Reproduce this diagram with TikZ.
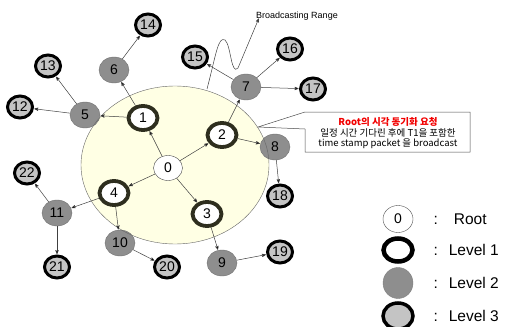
\documentclass[tikz,border=0pt]{standalone}
\usepackage{fontspec}
\setmainfont{Liberation Sans}
\newfontfamily\krfont{Noto Sans CJK KR}
\usetikzlibrary{arrows,shapes.geometric}
\definecolor{rangefill}{HTML}{FFFFE4}
\definecolor{ringcol}{HTML}{2E2E1E}
\definecolor{ltwo}{HTML}{8E8E8E}
\definecolor{lthree}{HTML}{C4C4C4}

\begin{document}
\begin{tikzpicture}
	[x=1pt,y=-1pt,->,>=stealth',shorten >=0.5pt,
		font=\fontsize{14}{14}\selectfont,
		root node/.style={ellipse,draw=black!70,fill=white,line width=0.4pt,minimum width=29pt,minimum height=25pt,inner sep=0pt},
		lone node/.style={ellipse,draw=ringcol,fill=white,line width=3.8pt,minimum width=29pt,minimum height=24pt,inner sep=0pt},
		ltwo node/.style={ellipse,draw=black!55,fill=ltwo,line width=0.4pt,minimum width=30pt,minimum height=26pt,inner sep=0pt},
		lthree node/.style={ellipse,draw=black,fill=lthree,line width=3pt,minimum width=25pt,minimum height=22pt,inner sep=0pt},
		link/.style={draw=black!75,line width=0.5pt},
		key text/.style={anchor=west,font=\fontsize{15.5}{16}\selectfont}]

	\useasboundingbox (0,0) rectangle (505,326);

	% broadcasting range
	\fill[rangefill] (175,165) ellipse [x radius=94, y radius=79];

	\node[root node]   (N0)  at (168,168) {0};
	\node[lone node]   (N1)  at (143,118) {1};
	\node[lone node]   (N2)  at (222,135) {2};
	\node[lone node]   (N3)  at (207,214) {3};
	\node[lone node]   (N4)  at (114,193) {4};
	\node[ltwo node]   (N5)  at (85,115)  {5};
	\node[ltwo node]   (N6)  at (114,70)  {6};
	\node[ltwo node]   (N7)  at (246,87)  {7};
	\node[ltwo node]   (N8)  at (275,147) {8};
	\node[ltwo node]   (N9)  at (222,263) {9};
	\node[ltwo node]   (N10) at (120,243) {10};
	\node[ltwo node]   (N11) at (57,213)  {11};
	\node[lthree node] (N12) at (20,107)  {12};
	\node[lthree node] (N13) at (48,66)   {13};
	\node[lthree node] (N14) at (148,25)  {14};
	\node[lthree node] (N15) at (195,57)  {15};
	\node[lthree node] (N16) at (290,49)  {16};
	\node[lthree node] (N17) at (313,89)  {17};
	\node[lthree node] (N18) at (280,196) {18};
	\node[lthree node] (N19) at (280,252) {19};
	\node[lthree node] (N20) at (167,267) {20};
	\node[lthree node] (N21) at (57,267)  {21};
	\node[lthree node] (N22) at (27,173)  {22};

	\draw[-,draw=black!60,line width=0.4pt] (175,165) ellipse [x radius=94, y radius=79];

	\path[link]
	(N0) edge (N1)
	(N0) edge (N2)
	(N0) edge (N3)
	(N0) edge (N4)

	(N1) edge (N5)
	(N1) edge (N6)
	(N2) edge (N7)
	(N2) edge (N8)
	(N3) edge (N9)
	(N4) edge (N10)
	(N4) edge (N11)

	(N5) edge (N12)
	(N5) edge (N13)
	(N6) edge (N14)
	(N7) edge (N15)
	(N7) edge (N16)
	(N7) edge (N17)
	(N8) edge (N18)
	(N9) edge (N19)
	(N10) edge (N20)
	(N11) edge (N21)
	(N11) edge (N22)
	;

	% range label
	\coordinate (rangeend) at (207,89);
	\node[font=\fontsize{9}{9}\selectfont] (rangetext) at (297,16) {Broadcasting Range};
	\draw[link] (rangeend) .. controls (216,55) and (218,36) .. (225,40)
		.. controls (231,45) and (231,76) .. (238,68) -- (259,18);

	% callout
	\coordinate (calltip) at (258,127);
	\draw[-,draw=black!70,fill=white,line width=0.5pt] (305,112) -- (calltip) -- (305,129)
		-- (305,152) -- (470,152) -- (470,112) -- cycle;
	\node[font=\krfont\fontsize{9.5}{10}\selectfont\bfseries,text=red!95!black] (callA) at (388,122) {Root의 시각 동기화 요청};
	\node[font=\krfont\fontsize{9.5}{10}\selectfont] (callB) at (388,133) {일정 시간 기다린 후에 T1을 포함한};
	\node[font=\krfont\fontsize{9.5}{10}\selectfont] (callC) at (388,144) {time stamp packet 을 broadcast};

	% legend
	\node[root node,minimum width=30pt,minimum height=27pt] (key0) at (398,219) {0};
	\node[ellipse,draw=black,fill=white,line width=4.5pt,minimum width=29pt,minimum height=23pt] (key1) at (398,250) {};
	\node[ellipse,draw=black!50,fill=ltwo,line width=0.4pt,minimum width=30pt,minimum height=31pt] (key2) at (398,283) {};
	\node[lthree node,line width=3.5pt,minimum width=30pt,minimum height=26pt] (key3) at (398,316) {};
	\node[key text] (lab0) at (430,219) {:\hspace{16pt}Root};
	\node[key text] (lab1) at (430,250) {:\hspace{11pt}Level 1};
	\node[key text] (lab2) at (430,283) {:\hspace{11pt}Level 2};
	\node[key text] (lab3) at (430,316) {:\hspace{11pt}Level 3};

\end{tikzpicture}
\end{document}
